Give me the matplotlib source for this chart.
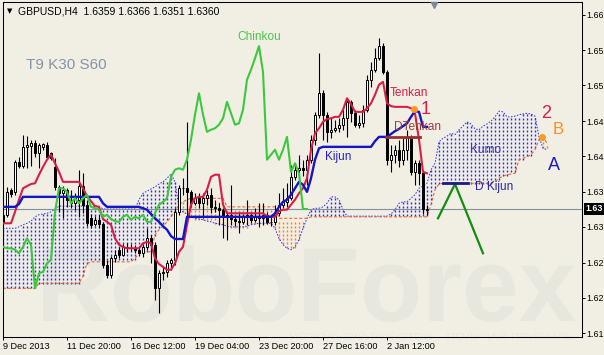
import numpy as np
import matplotlib.pyplot as plt
from matplotlib.font_manager import FontProperties
from matplotlib.patches import PathPatch
from matplotlib.textpath import TextPath
from matplotlib.transforms import Affine2D, blended_transform_factory

W, H, DPI = 604, 355, 100
FONT = "Liberation Sans"
BG = "#f1efe4"

SHIFT = 30  # chinkou lag / kumo lead

# GBPUSD H4 candles, bar 0 = 9 Dec 2013 04:00
opens = [
    1.6342, 1.6352, 1.6387, 1.6384, 1.6426, 1.6420, 1.6447, 1.6448, 1.6452, 1.6438,
    1.6447, 1.6450, 1.6438, 1.6419, 1.6391, 1.6382, 1.6387, 1.6373, 1.6368, 1.6373,
    1.6392, 1.6366, 1.6347, 1.6339, 1.6345, 1.6339, 1.6282, 1.6268, 1.6291, 1.6303,
    1.6296, 1.6307, 1.6305, 1.6305, 1.6303, 1.6298, 1.6307, 1.6319, 1.6310, 1.6249,
    1.6270, 1.6272, 1.6284, 1.6289, 1.6356, 1.6389, 1.6389, 1.6384, 1.6368, 1.6375,
    1.6368, 1.6375, 1.6380, 1.6363, 1.6361, 1.6359, 1.6349, 1.6352, 1.6346, 1.6343,
    1.6342, 1.6349, 1.6352, 1.6345, 1.6349, 1.6347, 1.6352, 1.6342, 1.6342, 1.6354,
    1.6366, 1.6370, 1.6375, 1.6405, 1.6415, 1.6417, 1.6415, 1.6429, 1.6457, 1.6492,
    1.6522, 1.6492, 1.6468, 1.6471, 1.6473, 1.6478, 1.6487, 1.6510, 1.6494, 1.6478,
    1.6480, 1.6499, 1.6541, 1.6555, 1.6571, 1.6588, 1.6552, 1.6429, 1.6436, 1.6443,
    1.6429, 1.6443, 1.6461, 1.6412, 1.6424, 1.6410, 1.6359,
]
highs = [
    1.6356, 1.6391, 1.6389, 1.6429, 1.6433, 1.6464, 1.6462, 1.6457, 1.6457, 1.6452,
    1.6452, 1.6454, 1.6440, 1.6431, 1.6394, 1.6392, 1.6389, 1.6387, 1.6382, 1.6415,
    1.6410, 1.6373, 1.6353, 1.6350, 1.6352, 1.6342, 1.6289, 1.6294, 1.6303, 1.6307,
    1.6311, 1.6312, 1.6311, 1.6310, 1.6308, 1.6311, 1.6333, 1.6324, 1.6314, 1.6275,
    1.6279, 1.6289, 1.6291, 1.6361, 1.6394, 1.6403, 1.6482, 1.6387, 1.6382, 1.6382,
    1.6382, 1.6387, 1.6389, 1.6373, 1.6368, 1.6361, 1.6356, 1.6394, 1.6352, 1.6356,
    1.6353, 1.6373, 1.6356, 1.6361, 1.6368, 1.6368, 1.6356, 1.6350, 1.6366, 1.6382,
    1.6389, 1.6396, 1.6422, 1.6424, 1.6436, 1.6429, 1.6436, 1.6464, 1.6496, 1.6578,
    1.6527, 1.6496, 1.6489, 1.6485, 1.6487, 1.6501, 1.6515, 1.6513, 1.6499, 1.6492,
    1.6506, 1.6548, 1.6566, 1.6585, 1.6599, 1.6592, 1.6555, 1.6450, 1.6450, 1.6457,
    1.6461, 1.6471, 1.6464, 1.6429, 1.6429, 1.6415, 1.6366,
]
lows = [
    1.6339, 1.6349, 1.6377, 1.6380, 1.6417, 1.6417, 1.6417, 1.6420, 1.6433, 1.6417,
    1.6443, 1.6433, 1.6429, 1.6387, 1.6356, 1.6347, 1.6363, 1.6361, 1.6359, 1.6349,
    1.6354, 1.6336, 1.6333, 1.6336, 1.6333, 1.6277, 1.6263, 1.6263, 1.6286, 1.6291,
    1.6294, 1.6300, 1.6301, 1.6298, 1.6294, 1.6293, 1.6303, 1.6284, 1.6233, 1.6214,
    1.6261, 1.6265, 1.6275, 1.6282, 1.6352, 1.6380, 1.6349, 1.6363, 1.6366, 1.6361,
    1.6347, 1.6366, 1.6354, 1.6356, 1.6338, 1.6319, 1.6317, 1.6338, 1.6336, 1.6326,
    1.6339, 1.6338, 1.6340, 1.6342, 1.6335, 1.6338, 1.6339, 1.6336, 1.6338, 1.6350,
    1.6361, 1.6363, 1.6373, 1.6401, 1.6401, 1.6406, 1.6394, 1.6424, 1.6450, 1.6487,
    1.6457, 1.6454, 1.6459, 1.6468, 1.6468, 1.6471, 1.6461, 1.6482, 1.6475, 1.6473,
    1.6475, 1.6496, 1.6531, 1.6552, 1.6569, 1.6549, 1.6422, 1.6412, 1.6424, 1.6419,
    1.6422, 1.6429, 1.6408, 1.6394, 1.6394, 1.6353, 1.6351,
]
closes = [
    1.6352, 1.6384, 1.6381, 1.6426, 1.6420, 1.6447, 1.6450, 1.6452, 1.6438, 1.6450,
    1.6451, 1.6433, 1.6431, 1.6391, 1.6382, 1.6387, 1.6373, 1.6368, 1.6378, 1.6392,
    1.6366, 1.6340, 1.6338, 1.6345, 1.6339, 1.6282, 1.6268, 1.6291, 1.6296, 1.6296,
    1.6307, 1.6305, 1.6305, 1.6303, 1.6298, 1.6307, 1.6319, 1.6310, 1.6249, 1.6270,
    1.6272, 1.6284, 1.6289, 1.6356, 1.6389, 1.6389, 1.6384, 1.6368, 1.6375, 1.6368,
    1.6375, 1.6380, 1.6363, 1.6361, 1.6359, 1.6349, 1.6352, 1.6346, 1.6343, 1.6342,
    1.6349, 1.6352, 1.6345, 1.6349, 1.6347, 1.6352, 1.6342, 1.6342, 1.6354, 1.6366,
    1.6370, 1.6375, 1.6405, 1.6415, 1.6417, 1.6415, 1.6429, 1.6457, 1.6492, 1.6522,
    1.6492, 1.6468, 1.6471, 1.6473, 1.6478, 1.6487, 1.6510, 1.6494, 1.6478, 1.6480,
    1.6499, 1.6541, 1.6555, 1.6571, 1.6588, 1.6552, 1.6429, 1.6436, 1.6443, 1.6429,
    1.6443, 1.6461, 1.6412, 1.6424, 1.6410, 1.6360, 1.6360,
]

tenkan = [
    1.6340, 1.6340, 1.6340, 1.6356, 1.6373, 1.6389, 1.6392, 1.6395, 1.6396, 1.6408,
    1.6419, 1.6429, 1.6436, 1.6424, 1.6412, 1.6398, 1.6398, 1.6398, 1.6398, 1.6398,
    1.6389, 1.6378, 1.6371, 1.6364, 1.6363, 1.6346, 1.6342, 1.6338, 1.6319, 1.6310,
    1.6307, 1.6305, 1.6305, 1.6305, 1.6305, 1.6312, 1.6314, 1.6312, 1.6291, 1.6283,
    1.6279, 1.6275, 1.6275, 1.6284, 1.6300, 1.6307, 1.6338, 1.6366, 1.6375, 1.6377,
    1.6377, 1.6387, 1.6405, 1.6408, 1.6408, 1.6366, 1.6354, 1.6354, 1.6354, 1.6354,
    1.6354, 1.6354, 1.6354, 1.6354, 1.6354, 1.6354, 1.6350, 1.6349, 1.6349, 1.6357,
    1.6359, 1.6359, 1.6366, 1.6373, 1.6382, 1.6389, 1.6403, 1.6443, 1.6466, 1.6473,
    1.6482, 1.6486, 1.6487, 1.6489, 1.6489, 1.6499, 1.6515, 1.6507, 1.6496, 1.6496,
    1.6496, 1.6501, 1.6508, 1.6520, 1.6534, 1.6538, 1.6508, 1.6504, 1.6503, 1.6503,
    1.6503, 1.6503, 1.6501, 1.6494, 1.6457, 1.6412, 1.6410,
]
kijun = [
    1.6363, 1.6363, 1.6363, 1.6363, 1.6367, 1.6377, 1.6377, 1.6377, 1.6377, 1.6377,
    1.6377, 1.6377, 1.6377, 1.6377, 1.6377, 1.6377, 1.6377, 1.6377, 1.6377, 1.6377,
    1.6377, 1.6377, 1.6377, 1.6377, 1.6377, 1.6368, 1.6363, 1.6363, 1.6363, 1.6363,
    1.6363, 1.6363, 1.6363, 1.6363, 1.6363, 1.6361, 1.6359, 1.6353, 1.6347, 1.6342,
    1.6336, 1.6331, 1.6322, 1.6318, 1.6318, 1.6318, 1.6349, 1.6349, 1.6349, 1.6349,
    1.6349, 1.6349, 1.6349, 1.6349, 1.6349, 1.6349, 1.6349, 1.6349, 1.6349, 1.6349,
    1.6349, 1.6349, 1.6349, 1.6349, 1.6349, 1.6349, 1.6349, 1.6349, 1.6354, 1.6363,
    1.6370, 1.6373, 1.6380, 1.6389, 1.6398, 1.6394, 1.6384, 1.6403, 1.6429, 1.6445,
    1.6447, 1.6447, 1.6447, 1.6447, 1.6447, 1.6447, 1.6447, 1.6447, 1.6447, 1.6447,
    1.6447, 1.6447, 1.6447, 1.6455, 1.6461, 1.6461, 1.6461, 1.6465, 1.6469, 1.6472,
    1.6476, 1.6480, 1.6489, 1.6497, 1.6496, 1.6475, 1.6475,
]
# senkou spans as drawn (already shifted 30 bars forward)
span_a = [
    1.6333, 1.6333, 1.6333, 1.6333, 1.6335, 1.6338, 1.6340, 1.6343, 1.6349, 1.6352,
    1.6353, 1.6354, 1.6356, 1.6360, 1.6364, 1.6364, 1.6364, 1.6364, 1.6364, 1.6364,
    1.6364, 1.6364, 1.6364, 1.6364, 1.6364, 1.6360, 1.6360, 1.6360, 1.6360, 1.6360,
    1.6360, 1.6360, 1.6360, 1.6360, 1.6373, 1.6382, 1.6385, 1.6388, 1.6391, 1.6395,
    1.6398, 1.6403, 1.6409, 1.6398, 1.6361, 1.6356, 1.6353, 1.6349, 1.6347, 1.6346,
    1.6345, 1.6343, 1.6342, 1.6340, 1.6339, 1.6338, 1.6336, 1.6335, 1.6335, 1.6335,
    1.6335, 1.6336, 1.6338, 1.6339, 1.6340, 1.6340, 1.6340, 1.6340, 1.6333, 1.6319,
    1.6310, 1.6305, 1.6303, 1.6307, 1.6317, 1.6333, 1.6347, 1.6359, 1.6361, 1.6361,
    1.6363, 1.6368, 1.6377, 1.6377, 1.6373, 1.6359, 1.6350, 1.6350, 1.6350, 1.6350,
    1.6350, 1.6350, 1.6350, 1.6350, 1.6350, 1.6350, 1.6350, 1.6353, 1.6359, 1.6368,
    1.6370, 1.6370, 1.6375, 1.6380, 1.6389, 1.6392, 1.6396, 1.6415, 1.6424, 1.6454,
    1.6459, 1.6462, 1.6466, 1.6464, 1.6471, 1.6476, 1.6482, 1.6479, 1.6472, 1.6471,
    1.6476, 1.6479, 1.6483, 1.6489, 1.6497, 1.6496, 1.6489, 1.6489, 1.6490, 1.6492,
    1.6493, 1.6494, 1.6493, 1.6490, 1.6461, 1.6445, 1.6443,
]
span_b = [
    1.6249, 1.6249, 1.6249, 1.6249, 1.6249, 1.6249, 1.6249, 1.6249, 1.6249, 1.6256,
    1.6256, 1.6256, 1.6256, 1.6256, 1.6256, 1.6256, 1.6256, 1.6256, 1.6256, 1.6256,
    1.6266, 1.6284, 1.6286, 1.6286, 1.6286, 1.6286, 1.6286, 1.6286, 1.6286, 1.6286,
    1.6286, 1.6286, 1.6286, 1.6291, 1.6298, 1.6300, 1.6300, 1.6300, 1.6324, 1.6331,
    1.6336, 1.6342, 1.6349, 1.6357, 1.6366, 1.6370, 1.6373, 1.6375, 1.6375, 1.6375,
    1.6375, 1.6375, 1.6375, 1.6375, 1.6375, 1.6375, 1.6363, 1.6363, 1.6363, 1.6363,
    1.6363, 1.6363, 1.6363, 1.6363, 1.6363, 1.6363, 1.6363, 1.6363, 1.6363, 1.6347,
    1.6347, 1.6347, 1.6347, 1.6347, 1.6347, 1.6347, 1.6347, 1.6349, 1.6349, 1.6349,
    1.6349, 1.6349, 1.6349, 1.6349, 1.6349, 1.6349, 1.6349, 1.6349, 1.6349, 1.6349,
    1.6349, 1.6349, 1.6349, 1.6349, 1.6349, 1.6349, 1.6349, 1.6349, 1.6349, 1.6349,
    1.6349, 1.6349, 1.6349, 1.6349, 1.6349, 1.6349, 1.6349, 1.6366, 1.6387, 1.6395,
    1.6396, 1.6396, 1.6396, 1.6396, 1.6396, 1.6396, 1.6396, 1.6396, 1.6396, 1.6396,
    1.6396, 1.6396, 1.6396, 1.6398, 1.6403, 1.6406, 1.6408, 1.6409, 1.6410, 1.6429,
    1.6431, 1.6433, 1.6436, 1.6443, 1.6457, 1.6461, 1.6452,
]

# analyst markup
forecast_x = [108.75, 113.0, 120.0]
forecast_y = [1.6347, 1.6395, 1.6298]
dtenkan_x = [95.75, 104.25]
dtenkan_y = 1.6461
dkijun_x = [110.0, 116.25]
dkijun_y = 1.6396
signal_x = [102.75, 134.75]
signal_y = [1.6500, 1.6461]

date_ticks = [0, 16, 32, 48, 64, 80, 96]
date_labels = ["9 Dec 2013", "11 Dec 20:00", "16 Dec 12:00", "19 Dec 04:00",
               "23 Dec 20:00", "27 Dec 16:00", "2 Jan 12:00"]
price_ticks = [1.6186, 1.6236, 1.6285, 1.6335, 1.6384,
               1.6434, 1.6483, 1.6533, 1.6582, 1.6632]
last_price = 1.6360

TENKAN = "#d81e46"
KIJUN = "#1414c8"
CHINKOU = "#3cc83c"
KUMO_UP = "#2b2bff"
KUMO_DN = "#ff7a1a"
SPAN_B = "#f05a1e"

plt.rcParams["font.family"] = [FONT, "DejaVu Sans"]

fig = plt.figure(figsize=(W / DPI, H / DPI), dpi=DPI, facecolor=BG)
# chart frame in pixels: x 2.5..582, y 2..337 from the top
ax = fig.add_axes([2.5 / W, (H - 337) / H, 579.5 / W, 335 / H])
ax.set_facecolor(BG)
ymin, ymax = 1.61808, 1.66498
ax.set_xlim(-0.125, 144.75)
ax.set_ylim(ymin, ymax)


def fitted_text(text, box, weight, color):
    # text outline stretched into a pixel box (x0, y0, x1, y1), y from top
    x0, y0, x1, y1 = box
    path = TextPath((0, 0), text, size=1,
                    prop=FontProperties(family=FONT, weight=weight))
    ext = path.get_extents()
    tr = (Affine2D().translate(-ext.x0, -ext.y0)
          .scale((x1 - x0) / ext.width / W, (y1 - y0) / ext.height / H)
          .translate(x0 / W, 1 - y1 / H) + fig.transFigure)
    ax.add_patch(PathPatch(path, transform=tr, facecolor=color,
                           edgecolor="none", zorder=0.5, clip_on=False))


fitted_text("RoboForex", (43, 245, 575, 322), "bold", "#e7e7dd")
fitted_text("ИСПОЛЬЗУЙ РОБОТОВ – ПОЛУЧАЙ ПРИБЫЛЬ", (290, 331, 573, 340),
            "normal", "#e8e8de")

# kumo: each column is a stack of short '|' dots on a 4 px row grid
a = np.array(span_a)
b = np.array(span_b)
cloud_x = np.arange(len(a))
px_per_price = 335 / (ymax - ymin)
ROW = 4.0
dots = {KUMO_UP: ([], []), KUMO_DN: ([], [])}
for x, ua, ub in zip(cloud_x, a, b):
    col = KUMO_UP if ua >= ub else KUMO_DN
    t_px = (ymax - max(ua, ub)) * px_per_price
    u_px = (ymax - min(ua, ub)) * px_per_price
    row = np.ceil(t_px / ROW) * ROW
    while row <= u_px:
        dots[col][0].append(x)
        dots[col][1].append(ymax - (row + 1) / px_per_price)
        row += ROW
for col, (dx, dy) in dots.items():
    ax.plot(dx, dy, linestyle="none", marker="|", ms=1.6, mew=1.0,
            color=col, zorder=1)
ax.plot(cloud_x, a, color=KUMO_UP, lw=0.72, ls=(0, (1.5, 1.5)), zorder=1.2)
ax.plot(cloud_x, b, color=SPAN_B, lw=0.72, ls=(0, (3, 2)), zorder=1.2)

ax.axhline(last_price, color="#8291a0", lw=0.8, zorder=1.5)

# candles
o = np.array(opens)
h = np.array(highs)
l = np.array(lows)
c = np.array(closes)
bars = np.arange(len(c))
ax.vlines(bars, l, h, color="black", lw=0.8, zorder=2)
body_fc = ["white" if cc >= oo else "black" for oo, cc in zip(o, c)]
ax.bar(bars, c - o, bottom=o, width=0.62, color=body_fc, edgecolor="black",
       linewidth=0.7, zorder=2.1)

# ichimoku lines
ax.plot(bars, tenkan, color=TENKAN, lw=1.5, zorder=3)
ax.plot(bars, kijun, color=KIJUN, lw=1.7, zorder=3)
ax.plot(bars[SHIFT:] - SHIFT, c[SHIFT:], color=CHINKOU, lw=1.5, zorder=3)

# markup
ax.plot(forecast_x, forecast_y, color="#148c14", lw=1.6, zorder=4)
ax.plot(dtenkan_x, [dtenkan_y, dtenkan_y], color="#9a2f2f", lw=2.0, zorder=4)
ax.plot(dkijun_x, [dkijun_y, dkijun_y], color="#1a1a8a", lw=2.0, zorder=4)
ax.plot(signal_x, signal_y, "o", color="#ff9a1a", ms=5, mec="none", zorder=5)

labels = [
    ("Chinkou", 58.5, 1.6601, 8.6, "#4ec34e"),
    ("Tenkan", 96.75, 1.6522, 8.6, TENKAN),
    ("1", 104.5, 1.6499, 13, TENKAN),
    ("DTenkan", 97.75, 1.6475, 8.6, "#a33a3a"),
    ("Kijun", 80.5, 1.6433, 8.6, "#2626c0"),
    ("Kumo", 116.75, 1.6442, 8.6, "#3a3ab8"),
    ("D Kijun", 118.0, 1.6391, 8.6, "#2626a8"),
    ("2", 134.5, 1.6494, 13, TENKAN),
    ("B", 137.5, 1.6471, 12, "#ff8c1a"),
    ("A", 136.25, 1.6421, 13, "#1a1ac0"),
]
for txt, x, y, size, col in labels:
    ax.text(x, y, txt, fontsize=size, color=col, ha="left", va="center", zorder=6)

# chart shift marker
ax.plot([(434 - 2.5) / 579.5], [1 - 2.5 / 335], marker="v", ms=5,
        color="#7a8a9a", transform=ax.transAxes, clip_on=False, zorder=6)

# axes; the narrow price scale only shows the first four characters
for s in ax.spines.values():
    s.set_color("black")
    s.set_linewidth(0.75)
ax.yaxis.tick_right()
ax.set_xticks(date_ticks, date_labels)
ax.set_yticks(price_ticks, [f"{p:.4f}"[:4] for p in price_ticks])
ax.tick_params(axis="x", direction="out", length=2.5, width=0.7,
               color="black", labelsize=6.6, pad=1)
ax.tick_params(axis="y", direction="out", length=2.5, width=0.7,
               color="black", labelsize=6.4, pad=0.3)
for lab in ax.get_xticklabels():
    lab.set_horizontalalignment("left")

price_tr = blended_transform_factory(ax.transAxes, ax.transData)
ax.text(1 + 3.5 / 579.5, last_price, f"{last_price:.4f}"[:4], transform=price_tr,
        ha="left", va="center", fontsize=6.4, color="white", fontweight="bold",
        bbox=dict(boxstyle="square,pad=0.2", fc="black", ec="none"),
        clip_on=False, zorder=7)

fig.text(7 / W, 1 - 11 / H, "▼", fontsize=5, family="DejaVu Sans",
         va="center", color="black")
fig.text(18 / W, 1 - 11 / H, "GBPUSD,H4  1.6359 1.6366 1.6351 1.6360",
         fontsize=7.5, va="center", color="black")
fig.text(26 / W, 1 - 65 / H, "T9 K30 S60", fontsize=11, va="center",
         color="#8494a6")

fig.savefig("out.png", dpi=DPI, facecolor=BG)
